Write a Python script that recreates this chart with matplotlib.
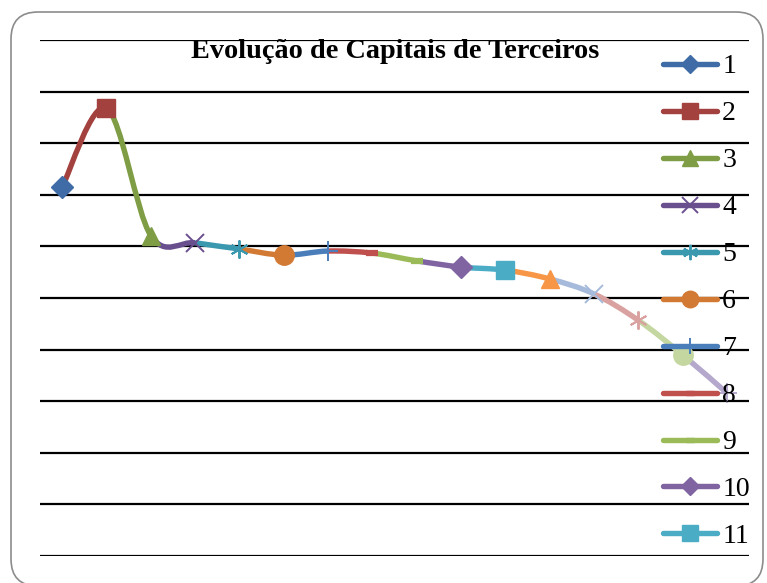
import numpy as np
import matplotlib
matplotlib.use("Agg")
import matplotlib.pyplot as plt
from matplotlib.path import Path
from matplotlib.patches import PathPatch, FancyBboxPatch
from matplotlib.lines import Line2D

# data (gridline units, 0 = bottom line)
periods = list(range(1, 17))
values = [7.15, 8.68, 6.21, 6.07, 5.95, 5.83, 5.91, 5.87,
          5.72, 5.60, 5.54, 5.37, 5.08, 4.57, 3.90, 3.16]
colors = ['#3F6CA6', '#A3413E', '#7E9D45', '#6A4F8F', '#3A98AF', '#D27A34',
          '#4A7EBB', '#C0504D', '#9BBB59', '#8064A2', '#4BACC6', '#F79646',
          '#A6BADB', '#D9A2A0', '#C4D7A0', '#B4A8CC']
markers = ['D', 's', '^', 'x', (6, 2, 0), 'o', '+', '_',
           '_', 'D', 's', '^', 'x', (6, 2, 0), 'o', '+']
legend_labels = [str(i) for i in range(1, 12)]

msizes = {'D': 11, 's': 13, '^': 13, 'x': 13, 'o': 14, '+': 14, '_': 9}
def msize(m):
    return msizes.get(m, 13) if isinstance(m, str) else 13
def mew(m):
    if m == '_':
        return 4.5
    if m in ('x', '+') or not isinstance(m, str):
        return 1.4
    return 1

fig = plt.figure(figsize=(7.67, 5.83), dpi=100)
ax = fig.add_axes([40 / 767, 1 - 556 / 583, 709 / 767, 516 / 583])
ax.set_xlim(0.5, 16.5)
ax.set_ylim(0, 10)
ax.set_yticks(range(0, 11))
ax.yaxis.grid(True, color='black', lw=1.6)
ax.set_axisbelow(True)
ax.tick_params(left=False, bottom=False, labelleft=False, labelbottom=False)
for s in ax.spines.values():
    s.set_visible(False)

# smoothed line, one bezier piece per point, coloured like the point it goes to
pts = np.column_stack([periods, values]).astype(float)
n = len(pts)
for i in range(n - 1):
    p0 = pts[max(i - 1, 0)]
    p1 = pts[i]
    p2 = pts[i + 1]
    p3 = pts[min(i + 2, n - 1)]
    c1 = p1 + (p2 - p0) / 6
    c2 = p2 - (p3 - p1) / 6
    path = Path([p1, c1, c2, p2], [Path.MOVETO, Path.CURVE4, Path.CURVE4, Path.CURVE4])
    ax.add_patch(PathPatch(path, fill=False, ec=colors[i + 1], lw=3.9,
                           capstyle='butt', zorder=2))

for x, y, c, m in zip(periods, values, colors, markers):
    ax.plot(x, y, marker=m, color=c, ms=msize(m), mew=mew(m), mec=c, zorder=3,
            clip_on=False)

handles = []
for i in range(11):
    m = markers[i]
    handles.append(Line2D([], [], color=colors[i], lw=3.9, marker=m,
                          ms=msize(m) * 0.85 if m != '_' else 6,
                          mew=mew(m) if m != '_' else 3.9,
                          solid_capstyle='round'))
fig.legend(handles, legend_labels, loc='upper left',
           bbox_to_anchor=(663 / 767, 1 - 54 / 583), frameon=False,
           prop={'family': 'Liberation Serif', 'size': 20},
           handlelength=1.95, handletextpad=0.18, borderpad=0, borderaxespad=0,
           labelspacing=0.775, numpoints=1)

fig.text(395 / 767, 1 - 51 / 583, 'Evolução de Capitais de Terceiros',
         ha='center', va='center', fontsize=20.3, fontweight='bold',
         family='Liberation Serif')

border = FancyBboxPatch((0.11, -0.03), 7.52, 5.74,
                        boxstyle='round,pad=0,rounding_size=0.27',
                        transform=fig.dpi_scale_trans, fill=False,
                        ec='#8C8C8C', lw=1.2)
fig.add_artist(border)

fig.savefig('out.png', dpi=100)
